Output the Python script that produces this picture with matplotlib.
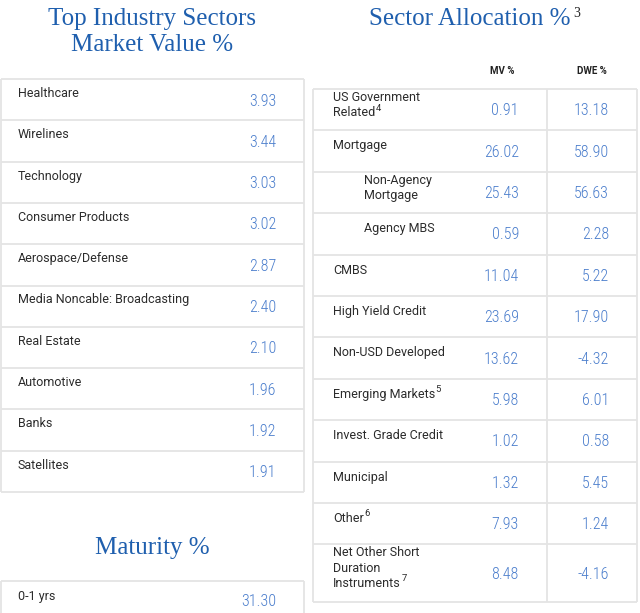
import matplotlib
matplotlib.use("Agg")
import matplotlib.pyplot as plt

# ---------------- data ----------------
industry_labels = ["Healthcare", "Wirelines", "Technology", "Consumer Products",
                   "Aerospace/Defense", "Media Noncable: Broadcasting", "Real Estate",
                   "Automotive", "Banks", "Satellites"]
industry_values = [3.93, 3.44, 3.03, 3.02, 2.87, 2.40, 2.10, 1.96, 1.92, 1.91]

maturity_labels = ["0-1 yrs"]
maturity_values = [31.30]

sector_labels = ["US Government\nRelated", "Mortgage", "Non-Agency\nMortgage",
                 "Agency MBS", "CMBS", "High Yield Credit", "Non-USD Developed",
                 "Emerging Markets", "Invest. Grade Credit", "Municipal",
                 "Other", "Net Other Short\nDuration\nInstruments"]
sector_notes = ["4", "", "", "", "", "", "", "5", "", "", "6", "7"]
sector_indent = [False, False, True, True, False, False, False, False, False, False,
                 False, False]
sector_mv = [0.91, 26.02, 25.43, 0.59, 11.04, 23.69, 13.62, 5.98, 1.02, 1.32, 7.93, 8.48]
sector_dwe = [13.18, 58.90, 56.63, 2.28, 5.22, 17.90, -4.32, 6.01, 0.58, 5.45, 1.24, -4.16]
sector_columns = ["MV %", "DWE %"]

titles = ["Top Industry Sectors\nMarket Value %", "Sector Allocation %", "Maturity %"]
title_note = "3"

# ---------------- style ----------------
TITLE_C = "#1f5fae"
VAL_C = "#4a7dcc"
TXT_C = "#2b2b2b"
LINE_C = "#e4e4e4"
SERIF = ["Liberation Serif", "DejaVu Serif"]
SANS = ["Roboto", "DejaVu Sans"]
NUM = ["Roboto Condensed", "Liberation Sans Narrow", "Roboto"]

fig = plt.figure(figsize=(6.4, 6.13), dpi=100)
ax = fig.add_axes([0, 0, 1, 1])
ax.set_xlim(0, 640)
ax.set_ylim(613, 0)
ax.axis("off")
renderer = fig.canvas.get_renderer()

def hline(x0, x1, y):
    ax.plot([x0, x1], [y, y], color=LINE_C, lw=1.3, solid_capstyle="butt")

def vline(x, y0, y1):
    ax.plot([x, x], [y0, y1], color=LINE_C, lw=1.3, solid_capstyle="butt")

def right_edge(t):
    bb = t.get_window_extent(renderer=renderer)
    return ax.transData.inverted().transform((bb.x1, bb.y0))[0]

def label(x, y, s, note=""):
    t = ax.text(x, y, s, ha="left", va="center", fontsize=9,
                family=SANS, color=TXT_C)
    if note:
        ax.text(right_edge(t) + 0.5, y - 4.5, note, ha="left", va="center",
                fontsize=6.8, family=SANS, color=TXT_C)

def value(x, y, v):
    ax.text(x, y, f"{v:.2f}", ha="right", va="center", fontsize=11.5,
            family=NUM, fontweight="light", color=VAL_C)

# ---------------- left: industry ----------------
for k, line in enumerate(titles[0].split("\n")):
    ax.text(152, 19 + k * 26, line, ha="center", va="center", fontsize=18,
            family=SERIF, color=TITLE_C)

L0, L1 = 0.5, 304
top = 79
rh = 41.3
n = len(industry_labels)
for i, (lab, v) in enumerate(zip(industry_labels, industry_values)):
    y = top + i * rh
    hline(L0, L1, y)
    label(18, y + 14.5, lab)
    value(276, y + 22, v)
bot = top + n * rh
hline(L0, L1, bot)
vline(L0, top, bot)
vline(L1, top, bot)

# ---------------- left: maturity ----------------
ax.text(152, 548, titles[2], ha="center", va="center", fontsize=18,
        family=SERIF, color=TITLE_C)
mtop = 581
for i, (lab, v) in enumerate(zip(maturity_labels, maturity_values)):
    y = mtop + i * rh
    hline(L0, L1, y)
    label(18, y + 15.5, lab)
    value(276, y + 21, v)
vline(L0, mtop, 613)
vline(L1, mtop, 613)

# ---------------- right: sector allocation ----------------
tt = ax.text(470, 19, titles[1], ha="center", va="center", fontsize=18,
             family=SERIF, color=TITLE_C)
ax.text(right_edge(tt) + 2, 13.5, title_note, ha="left", va="center", fontsize=10,
        family=SERIF, color="#222222")

R0, RM, R1 = 313, 547, 637
ax.text(502, 71, sector_columns[0], ha="center", va="center", fontsize=7,
        family=SANS, fontweight="bold", color="#222222")
ax.text(592, 71, sector_columns[1], ha="center", va="center", fontsize=7,
        family=SANS, fontweight="bold", color="#222222")

y = 89
for lab, note, ind, mv, dwe in zip(sector_labels, sector_notes, sector_indent,
                                   sector_mv, sector_dwe):
    lines = lab.split("\n")
    h = 57.5 if len(lines) >= 3 else 41.4
    hline(R0, R1, y)
    lx = 364 if ind else 333
    y0 = y + (15.5 if len(lines) == 1 else 8.5)
    for k, line in enumerate(lines):
        label(lx, y0 + k * 15.2, line, note if k == len(lines) - 1 else "")
    vy = y + h / 2 + 1
    value(519, vy, mv)
    value(609, vy, dwe)
    y += h
hline(R0, R1, y)
vline(R0, 89, y)
vline(RM, 89, y)
vline(R1, 89, y)

fig.savefig("out.png", dpi=100, facecolor="white")
